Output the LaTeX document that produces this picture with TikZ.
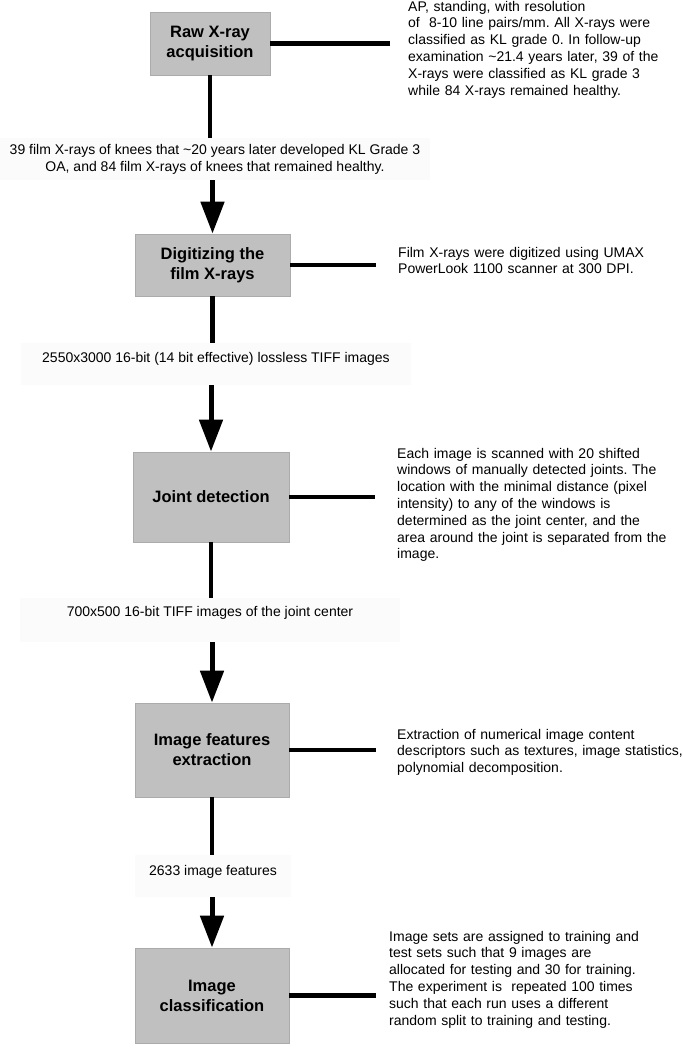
\documentclass[tikz,border=0pt]{standalone}
\usepackage{fontspec}
\setmainfont{Liberation Sans}
\usetikzlibrary{arrows.meta,calc}
\definecolor{boxfill}{HTML}{C0C0C0}
\definecolor{boxline}{HTML}{ABABAB}
\definecolor{lblbg}{HTML}{FBFBFB}
\newcommand\bodyfont{\fontsize{14}{16.8}\selectfont}
\newcommand\boxfont{\fontsize{16.5}{20}\selectfont\bfseries}
\frenchspacing
\begin{document}
\begin{tikzpicture}[x=1pt,y=-1pt,
  stage/.style={fill=boxfill,draw=boxline,line width=0.8pt,align=center,font=\boxfont,inner sep=0pt},
  lbl/.style={fill=lblbg,align=center,font=\bodyfont,inner sep=0pt},
  note/.style={anchor=base west,align=left,text width=300pt,font=\bodyfont,inner sep=0pt},
  link/.style={line width=4.6pt},
  arr/.style={line width=5pt,-{Triangle[width=23pt,length=32pt]}},
]
\useasboundingbox (0,0) rectangle (683,1050);
\fill[white] (0,0) rectangle (683,1050);

% stages
\node[stage,minimum width=120pt,minimum height=63pt] (b1) at (210,43.5) {Raw X-ray\\acquisition};
\node[stage,minimum width=155pt,minimum height=62pt] (b2) at (212.5,265) {Digitizing the\\film X-rays};
\node[stage,minimum width=156pt,minimum height=90pt] (b3) at (211,497) {Joint detection};
\node[stage,minimum width=154pt,minimum height=94pt] (b4) at (212,750) {Image features\\extraction};
\node[stage,minimum width=154pt,minimum height=95pt] (b5) at (212,995.5) {Image\\classification};

% labels between stages
\node[lbl,minimum width=430pt,minimum height=42pt] (l1) at (215,159) {39 film X-rays of knees that \textasciitilde20 years later developed KL Grade 3\\OA, and 84 film X-rays of knees that remained healthy.};
\node[lbl,minimum width=390pt,minimum height=42pt,text height=10pt,text depth=13pt] (l2) at (216,364) {2550x3000 16-bit (14 bit effective) lossless TIFF images};
\node[lbl,minimum width=380pt,minimum height=44pt,text height=10pt,text depth=17pt] (l3) at (210,620) {700x500 16-bit TIFF images of the joint center};
\node[lbl,minimum width=156pt,minimum height=42pt,text height=10pt,text depth=11pt] (l4) at (213,876) {2633 image features};

% side notes
\node[note] (n1) at (408,11) {AP, standing, with resolution\\of\ \ 8-10 line pairs/mm. All X-rays were\\classified as KL grade 0. In follow-up\\examination \textasciitilde21.4 years later, 39 of the\\X-rays were classified as KL grade 3\\while 84 X-rays remained healthy.};
\node[note] (n2) at (398,257) {Film X-rays were digitized using UMAX\\PowerLook 1100 scanner at 300 DPI.};
\node[note] (n3) at (397,458) {Each image is scanned with 20 shifted\\windows of manually detected joints. The\\location with the minimal distance (pixel\\intensity) to any of the windows is\\determined as the joint center, and the\\area around the joint is separated from the\\image.};
\node[note] (n4) at (397,739) {Extraction of numerical image content\\descriptors such as textures, image statistics,\\polynomial decomposition.};
\node[note] (n5) at (389,941) {Image sets are assigned to training and\\test sets such that 9 images are\\allocated for testing and 30 for training.\\The experiment is\ \ repeated 100 times\\such that each run uses a different\\random split to training and testing.};

% flow
\draw[link] (b1.south) -- (b1.south |- l1.north);
\draw[arr] (b2.north |- l1.south) -- (b2.north);
\draw[link] (b2.south) -- (b2.south |- l2.north);
\draw[arr] (b3.north |- l2.south) -- (b3.north);
\draw[link] (b3.south) -- (b3.south |- l3.north);
\draw[arr] (b4.north |- l3.south) -- (b4.north);
\draw[link] (b4.south) -- (b4.south |- l4.north);
\draw[arr] (b5.north |- l4.south) -- (b5.north);

% stubs to notes
\draw[link] (b1.east) -- ++(120,0) coordinate (s1);
\draw[link] (b2.east) -- ++(86,0) coordinate (s2);
\draw[link] (b3.east) -- ++(86,0) coordinate (s3);
\draw[link] (b4.east) -- ++(87,0) coordinate (s4);
\draw[link] (b5.east) -- ++(87,0) coordinate (s5);
\end{tikzpicture}
\end{document}
